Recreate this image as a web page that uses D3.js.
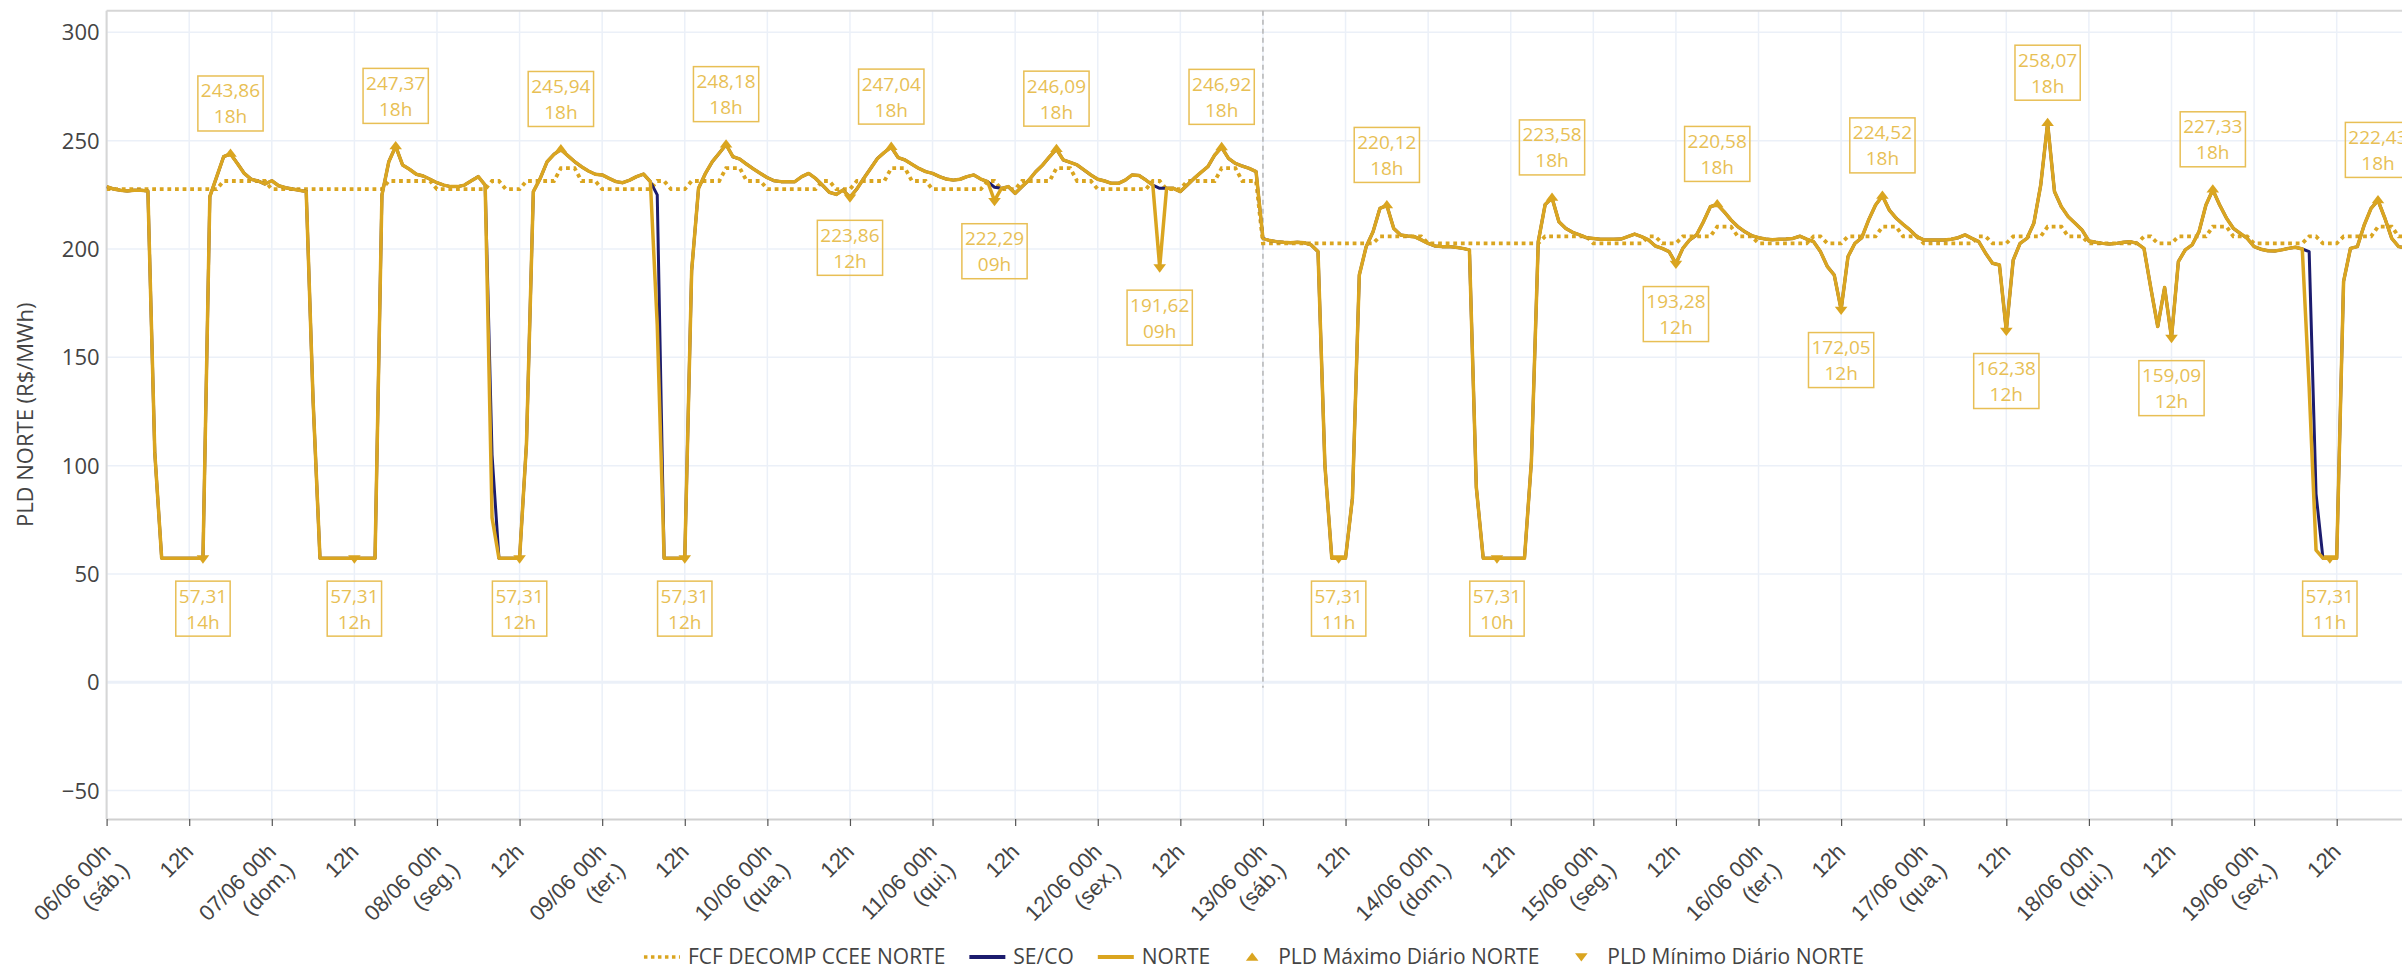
<!DOCTYPE html>
<html>
<head>
<meta charset="utf-8">
<script src="https://cdn.jsdelivr.net/npm/d3@7"></script>
<style>
  html, body { margin: 0; padding: 0; background: #fff; overflow: hidden; }
  svg { display: block; font-family: "Open Sans", sans-serif; }
</style>
</head>
<body>
<div id="chart"></div>
<script>
// first hour shown: 06/06 00h, one value per hour
const START = Date.UTC(2026, 5, 6, 0);
const WEEKDAYS = ["dom.", "seg.", "ter.", "qua.", "qui.", "sex.", "sáb."];

// PLD horario NORTE (R$/MWh), one row per day
const NORTE = [
  228.8, 227.7, 227.1, 226.8, 227.1, 227.1, 226.8, 106.0, 57.31, 57.31, 57.31, 57.31, 57.31, 57.31, 57.31, 224.2, 233.4, 242.6, 243.86, 239.5, 234.9, 232.2, 231.4, 230.0,
  231.5, 229.2, 228.3, 227.7, 227.1, 226.5, 130.0, 57.31, 57.31, 57.31, 57.31, 57.31, 57.31, 57.31, 57.31, 57.31, 224.9, 240.3, 247.37, 238.8, 236.8, 234.5, 233.7, 232.2,
  230.6, 229.5, 228.8, 228.8, 229.5, 231.5, 233.4, 229.5, 76.0, 57.31, 57.31, 57.31, 57.31, 110.0, 226.5, 232.6, 240.3, 243.7, 245.94, 243.1, 240.3, 238.0, 236.0, 234.5,
  234.2, 232.6, 231.1, 230.6, 231.8, 233.4, 234.6, 231.1, 165.0, 57.31, 57.31, 57.31, 57.31, 190.0, 228.0, 234.9, 240.3, 244.2, 248.18, 242.6, 241.5, 239.1, 236.9, 234.9,
  232.9, 231.5, 231.1, 231.1, 231.1, 233.4, 234.9, 232.6, 229.5, 226.2, 225.2, 227.2, 223.86, 227.7, 232.6, 237.2, 241.8, 244.6, 247.04, 242.2, 241.1, 239.1, 237.2, 235.7,
  234.9, 233.4, 232.3, 231.8, 232.2, 233.4, 234.2, 232.3, 231.1, 222.29, 228.0, 228.8, 225.7, 228.8, 231.8, 235.7, 238.8, 242.6, 246.09, 241.1, 240.0, 238.8, 236.5, 234.2,
  232.2, 231.4, 230.3, 230.3, 231.8, 234.2, 233.9, 231.8, 229.5, 191.62, 228.0, 228.0, 226.5, 229.5, 232.6, 235.4, 238.0, 243.4, 246.92, 241.8, 239.5, 238.3, 237.2, 235.7,
  204.9, 203.9, 203.4, 203.1, 202.9, 203.1, 202.9, 201.9, 198.8, 100.4, 57.31, 57.31, 57.31, 85.0, 188.0, 201.1, 208.0, 218.8, 220.12, 209.5, 206.5, 206.0, 205.7, 204.2,
  202.6, 201.4, 201.1, 201.1, 200.8, 200.3, 199.6, 90.0, 57.31, 57.31, 57.31, 57.31, 57.31, 57.31, 57.31, 101.9, 203.4, 220.5, 223.58, 212.6, 209.5, 207.7, 206.5, 205.2,
  204.9, 204.5, 204.5, 204.5, 204.6, 205.7, 206.9, 205.7, 204.2, 201.4, 200.3, 198.8, 193.28, 200.3, 204.2, 206.5, 212.6, 219.5, 220.58, 217.2, 213.4, 210.3, 208.0, 206.2,
  205.2, 204.6, 204.3, 204.5, 204.6, 204.9, 205.9, 204.6, 203.4, 198.8, 191.9, 188.0, 172.05, 196.5, 202.6, 205.2, 213.4, 220.3, 224.52, 218.0, 214.2, 211.4, 208.8, 205.7,
  204.2, 204.2, 204.2, 204.2, 204.5, 205.2, 206.5, 204.9, 203.4, 198.0, 193.4, 192.6, 162.38, 194.9, 202.6, 204.9, 211.9, 229.5, 258.07, 226.5, 219.5, 214.9, 211.9, 208.8,
  203.7, 203.1, 202.6, 202.3, 202.6, 203.1, 203.4, 202.6, 200.3, 181.9, 164.2, 182.2, 159.09, 194.2, 199.6, 201.9, 208.0, 220.3, 227.33, 220.3, 214.2, 209.5, 207.2, 204.9,
  201.1, 199.9, 199.2, 199.1, 199.6, 200.3, 200.8, 200.0, 136.0, 61.0, 57.31, 57.31, 57.31, 185.0, 200.3, 201.1, 211.1, 218.8, 222.43, 214.2, 204.9, 201.1, 200.5, 200.0
];

// PLD horario SE/CO (R$/MWh)
const SECO = [
  228.8, 227.7, 227.1, 226.8, 227.1, 227.1, 226.8, 106.0, 57.31, 57.31, 57.31, 57.31, 57.31, 57.31, 57.31, 224.2, 233.4, 242.6, 243.86, 239.5, 234.9, 232.2, 231.4, 230.0,
  231.5, 229.2, 228.3, 227.7, 227.1, 226.5, 130.0, 57.31, 57.31, 57.31, 57.31, 57.31, 57.31, 57.31, 57.31, 57.31, 224.9, 240.3, 247.37, 238.8, 236.8, 234.5, 233.7, 232.2,
  230.6, 229.5, 228.8, 228.8, 229.5, 231.5, 233.4, 229.5, 105.0, 57.31, 57.31, 57.31, 57.31, 110.0, 226.5, 232.6, 240.3, 243.7, 245.94, 243.1, 240.3, 238.0, 236.0, 234.5,
  234.2, 232.6, 231.1, 230.6, 231.8, 233.4, 234.6, 231.1, 225.0, 57.31, 57.31, 57.31, 57.31, 190.0, 228.0, 234.9, 240.3, 244.2, 248.18, 242.6, 241.5, 239.1, 236.9, 234.9,
  232.9, 231.5, 231.1, 231.1, 231.1, 233.4, 234.9, 232.6, 229.5, 226.2, 225.2, 227.2, 223.86, 227.7, 232.6, 237.2, 241.8, 244.6, 247.04, 242.2, 241.1, 239.1, 237.2, 235.7,
  234.9, 233.4, 232.3, 231.8, 232.2, 233.4, 234.2, 232.3, 231.1, 228.5, 228.0, 228.8, 225.7, 228.8, 231.8, 235.7, 238.8, 242.6, 246.09, 241.1, 240.0, 238.8, 236.5, 234.2,
  232.2, 231.4, 230.3, 230.3, 231.8, 234.2, 233.9, 231.8, 229.5, 228.0, 228.0, 228.0, 226.5, 229.5, 232.6, 235.4, 238.0, 243.4, 246.92, 241.8, 239.5, 238.3, 237.2, 235.7,
  204.9, 203.9, 203.4, 203.1, 202.9, 203.1, 202.9, 201.9, 198.8, 100.4, 57.31, 57.31, 57.31, 85.0, 188.0, 201.1, 208.0, 218.8, 220.12, 209.5, 206.5, 206.0, 205.7, 204.2,
  202.6, 201.4, 201.1, 201.1, 200.8, 200.3, 199.6, 90.0, 57.31, 57.31, 57.31, 57.31, 57.31, 57.31, 57.31, 101.9, 203.4, 220.5, 223.58, 212.6, 209.5, 207.7, 206.5, 205.2,
  204.9, 204.5, 204.5, 204.5, 204.6, 205.7, 206.9, 205.7, 204.2, 201.4, 200.3, 198.8, 193.28, 200.3, 204.2, 206.5, 212.6, 219.5, 220.58, 217.2, 213.4, 210.3, 208.0, 206.2,
  205.2, 204.6, 204.3, 204.5, 204.6, 204.9, 205.9, 204.6, 203.4, 198.8, 191.9, 188.0, 172.05, 196.5, 202.6, 205.2, 213.4, 220.3, 224.52, 218.0, 214.2, 211.4, 208.8, 205.7,
  204.2, 204.2, 204.2, 204.2, 204.5, 205.2, 206.5, 204.9, 203.4, 198.0, 193.4, 192.6, 162.38, 194.9, 202.6, 204.9, 211.9, 229.5, 258.07, 226.5, 219.5, 214.9, 211.9, 208.8,
  203.7, 203.1, 202.6, 202.3, 202.6, 203.1, 203.4, 202.6, 200.3, 181.9, 164.2, 182.2, 159.09, 194.2, 199.6, 201.9, 208.0, 220.3, 227.33, 220.3, 214.2, 209.5, 207.2, 204.9,
  201.1, 199.9, 199.2, 199.1, 199.6, 200.3, 200.8, 200.0, 198.8, 87.0, 57.31, 57.31, 57.31, 185.0, 200.3, 201.1, 211.1, 218.8, 222.43, 214.2, 204.9, 201.1, 200.5, 200.0
];

// FCF DECOMP CCEE NORTE (R$/MWh)
const FCF = [
  227.6, 227.6, 227.6, 227.6, 227.6, 227.6, 227.6, 227.6, 227.6, 227.6, 227.6, 227.6, 227.6, 227.6, 227.6, 227.6, 227.6, 231.4, 231.4, 231.4, 231.4, 231.4, 231.4, 231.4,
  227.6, 227.6, 227.6, 227.6, 227.6, 227.6, 227.6, 227.6, 227.6, 227.6, 227.6, 227.6, 227.6, 227.6, 227.6, 227.6, 227.6, 231.4, 231.4, 231.4, 231.4, 231.4, 231.4, 231.4,
  227.6, 227.6, 227.6, 227.6, 227.6, 227.6, 227.6, 227.6, 231.4, 231.4, 227.6, 227.6, 227.6, 231.4, 231.4, 231.4, 231.4, 231.4, 237.3, 237.3, 237.3, 231.4, 231.4, 231.4,
  227.6, 227.6, 227.6, 227.6, 227.6, 227.6, 227.6, 227.6, 231.4, 231.4, 227.6, 227.6, 227.6, 231.4, 231.4, 231.4, 231.4, 231.4, 237.3, 237.3, 237.3, 231.4, 231.4, 231.4,
  227.6, 227.6, 227.6, 227.6, 227.6, 227.6, 227.6, 227.6, 231.4, 231.4, 227.6, 227.6, 227.6, 231.4, 231.4, 231.4, 231.4, 231.4, 237.3, 237.3, 237.3, 231.4, 231.4, 231.4,
  227.6, 227.6, 227.6, 227.6, 227.6, 227.6, 227.6, 227.6, 231.4, 231.4, 227.6, 227.6, 227.6, 231.4, 231.4, 231.4, 231.4, 231.4, 237.3, 237.3, 237.3, 231.4, 231.4, 231.4,
  227.6, 227.6, 227.6, 227.6, 227.6, 227.6, 227.6, 227.6, 231.4, 231.4, 227.6, 227.6, 227.6, 231.4, 231.4, 231.4, 231.4, 231.4, 237.3, 237.3, 237.3, 231.4, 231.4, 231.4,
  202.6, 202.6, 202.6, 202.6, 202.6, 202.6, 202.6, 202.6, 202.6, 202.6, 202.6, 202.6, 202.6, 202.6, 202.6, 202.6, 202.6, 205.8, 205.8, 205.8, 205.8, 205.8, 205.8, 205.8,
  202.6, 202.6, 202.6, 202.6, 202.6, 202.6, 202.6, 202.6, 202.6, 202.6, 202.6, 202.6, 202.6, 202.6, 202.6, 202.6, 202.6, 205.8, 205.8, 205.8, 205.8, 205.8, 205.8, 205.8,
  202.6, 202.6, 202.6, 202.6, 202.6, 202.6, 202.6, 202.6, 205.8, 205.8, 202.6, 202.6, 202.6, 205.8, 205.8, 205.8, 205.8, 205.8, 210.3, 210.3, 210.3, 205.8, 205.8, 205.8,
  202.6, 202.6, 202.6, 202.6, 202.6, 202.6, 202.6, 202.6, 205.8, 205.8, 202.6, 202.6, 202.6, 205.8, 205.8, 205.8, 205.8, 205.8, 210.3, 210.3, 210.3, 205.8, 205.8, 205.8,
  202.6, 202.6, 202.6, 202.6, 202.6, 202.6, 202.6, 202.6, 205.8, 205.8, 202.6, 202.6, 202.6, 205.8, 205.8, 205.8, 205.8, 205.8, 210.3, 210.3, 210.3, 205.8, 205.8, 205.8,
  202.6, 202.6, 202.6, 202.6, 202.6, 202.6, 202.6, 202.6, 205.8, 205.8, 202.6, 202.6, 202.6, 205.8, 205.8, 205.8, 205.8, 205.8, 210.3, 210.3, 210.3, 205.8, 205.8, 205.8,
  202.6, 202.6, 202.6, 202.6, 202.6, 202.6, 202.6, 202.6, 205.8, 205.8, 202.6, 202.6, 202.6, 205.8, 205.8, 205.8, 205.8, 205.8, 210.3, 210.3, 210.3, 205.8, 205.8, 205.8
];

// hour index of each daily max / min of NORTE
const MAX_HOURS = [18, 42, 66, 90, 114, 138, 162, 186, 210, 234, 258, 282, 306, 330];
const MIN_HOURS = [14, 36, 60, 84, 108, 129, 153, 179, 202, 228, 252, 276, 300, 323];

const LEGEND_NAMES = ["FCF DECOMP CCEE NORTE", "SE/CO", "NORTE", "PLD Máximo Diário NORTE", "PLD Mínimo Diário NORTE"];
const Y_TITLE = "PLD NORTE (R$/MWh)";
const Y_TICKS = [-50, 0, 50, 100, 150, 200, 250, 300];

const GOLD = "#DAA520";
const GOLD_LIGHT = "#E8BF55";
const NAVY = "#1c1c6e";
const GRID = "#EBF0F8";
const TEXT = "#444";

const W = 2402, H = 970;
// x range runs a little past the window, as in the original
const plot = {left: 106.6, top: 10.7, bottom: 819, hourPx: 6.883, hours: 334};
plot.right = plot.left + plot.hourPx * plot.hours;

const times = d3.range(NORTE.length).map(i => new Date(START + i * 3600e3));

const svg = d3.select("#chart").append("svg")
    .attr("width", W)
    .attr("height", H);

const x = d3.scaleUtc()
    .domain([new Date(START), new Date(START + plot.hours * 3600e3)])
    .range([plot.left, plot.right]);
const y = d3.scaleLinear()
    .domain([-63.1, 310.0])
    .range([plot.bottom, plot.top]);

svg.append("defs").append("clipPath").attr("id", "clip")
  .append("rect")
    .attr("x", plot.left).attr("y", plot.top)
    .attr("width", plot.right - plot.left)
    .attr("height", plot.bottom - plot.top);

// grid
const xTicks = x.ticks(d3.utcHour.every(12));
svg.append("g")
  .selectAll("line")
  .data(xTicks)
  .enter().append("line")
    .attr("x1", d => x(d)).attr("x2", d => x(d))
    .attr("y1", plot.top).attr("y2", plot.bottom)
    .attr("stroke", GRID).attr("stroke-width", 1.5);
svg.append("g")
  .selectAll("line")
  .data(Y_TICKS)
  .enter().append("line")
    .attr("x1", plot.left).attr("x2", plot.right)
    .attr("y1", d => y(d)).attr("y2", d => y(d))
    .attr("stroke", GRID)
    .attr("stroke-width", d => d === 0 ? 3 : 1.5);

// frame
svg.append("line")
    .attr("x1", plot.left).attr("x2", plot.right)
    .attr("y1", plot.top).attr("y2", plot.top)
    .attr("stroke", "#d6d6d6").attr("stroke-width", 2);
svg.append("line")
    .attr("x1", plot.left).attr("x2", plot.left)
    .attr("y1", plot.top).attr("y2", plot.bottom)
    .attr("stroke", "#d6d6d6").attr("stroke-width", 2);

// 13/06 00h separator
svg.append("line")
    .attr("x1", x(new Date(START + 168 * 3600e3)))
    .attr("x2", x(new Date(START + 168 * 3600e3)))
    .attr("y1", plot.top).attr("y2", y(-2.5))
    .attr("stroke", "#b5b5b5")
    .attr("stroke-width", 1.5)
    .attr("stroke-dasharray", "5,4");

// x axis
const fmtHour = d3.utcFormat("%Hh");
const fmtDay = d3.utcFormat("%d/%m %Hh");
const xAxis = svg.append("g")
    .attr("transform", "translate(0," + plot.bottom + ")")
    .call(d3.axisBottom(x).tickValues(xTicks).tickSize(7).tickSizeOuter(0).tickFormat(""));
xAxis.select(".domain").attr("stroke", "#d0d0d0").attr("stroke-width", 2);
xAxis.selectAll(".tick line").attr("stroke", "#555").attr("stroke-width", 1.2);
xAxis.selectAll(".tick text").remove();
xAxis.selectAll(".tick").each(function(d) {
  const t = d3.select(this).append("text")
      .attr("transform", "translate(5,34) rotate(-45)")
      .attr("text-anchor", "end")
      .attr("font-size", 22)
      .attr("fill", TEXT);
  const lines = d.getUTCHours() === 0
      ? [fmtDay(d), "(" + WEEKDAYS[d.getUTCDay()] + ")"]
      : [fmtHour(d)];
  lines.forEach((s, i) => {
    t.append("tspan").attr("x", 0).attr("dy", i === 0 ? 0 : "1.2em").text(s);
  });
});

// y axis labels
svg.append("g")
  .selectAll("text")
  .data(Y_TICKS)
  .enter().append("text")
    .attr("x", plot.left - 7)
    .attr("y", d => y(d))
    .attr("dy", "0.36em")
    .attr("text-anchor", "end")
    .attr("font-size", 22)
    .attr("fill", TEXT)
    .text(d => d3.format("")(d));

svg.append("text")
    .attr("transform", "translate(25," + ((plot.top + plot.bottom) / 2) + ") rotate(-90)")
    .attr("text-anchor", "middle")
    .attr("dy", "0.35em")
    .attr("font-size", 22)
    .attr("fill", TEXT)
    .text(Y_TITLE);

// series
const lines = svg.append("g").attr("clip-path", "url(#clip)");
const line = d3.line()
    .x((d, i) => x(times[i]))
    .y(d => y(d));

lines.append("path")
    .datum(FCF)
    .attr("d", line)
    .attr("fill", "none")
    .attr("stroke", GOLD)
    .attr("stroke-width", 3.8)
    .attr("stroke-dasharray", "3.8,3.8");
lines.append("path")
    .datum(SECO)
    .attr("d", line)
    .attr("fill", "none")
    .attr("stroke", NAVY)
    .attr("stroke-width", 3)
    .attr("stroke-linejoin", "round");
lines.append("path")
    .datum(NORTE)
    .attr("d", line)
    .attr("fill", "none")
    .attr("stroke", GOLD)
    .attr("stroke-width", 3.5)
    .attr("stroke-linejoin", "round");

// markers + annotations
const triUp = "M-6.3,2.8H6.3L0,-5.5Z";
const triDown = "M-6.3,-2.8H6.3L0,5.5Z";
const fmtVal = v => d3.format(".2f")(v).replace(".", ",");

function annotate(hours, path, dir) {
  const g = svg.append("g");
  g.selectAll("path")
    .data(hours)
    .enter().append("path")
      .attr("d", path)
      .attr("transform", h => "translate(" + x(times[h]) + "," + y(NORTE[h]) + ")")
      .attr("fill", GOLD);

  hours.forEach(h => {
    const px = x(times[h]);
    const py = y(NORTE[h]);
    const top = dir < 0 ? py - 23 - 55 : py + 23;
    const a = g.append("g");
    const box = a.append("rect");
    const txt = a.append("text")
        .attr("text-anchor", "middle")
        .attr("font-size", 19)
        .attr("fill", GOLD_LIGHT);
    txt.append("tspan").attr("x", px).attr("y", top + 21.5).text(fmtVal(NORTE[h]));
    txt.append("tspan").attr("x", px).attr("y", top + 47.5).text(fmtHour(times[h]));
    const bw = txt.node().getBBox().width + 6;
    box.attr("x", px - bw / 2).attr("y", top)
        .attr("width", bw).attr("height", 55)
        .attr("fill", "none")
        .attr("stroke", GOLD_LIGHT).attr("stroke-width", 1.5);
  });
}
annotate(MAX_HOURS, triUp, -1);
annotate(MIN_HOURS, triDown, 1);

// legend
const legend = svg.append("g").attr("transform", "translate(0,957)");
let lx = 0;
LEGEND_NAMES.forEach((name, i) => {
  const item = legend.append("g").attr("transform", "translate(" + lx + ",0)");
  if (i === 0) {
    item.append("line").attr("x1", 0).attr("x2", 36)
        .attr("stroke", GOLD).attr("stroke-width", 3.5).attr("stroke-dasharray", "3.5,3.5");
  } else if (i === 1 || i === 2) {
    item.append("line").attr("x1", 0).attr("x2", 36)
        .attr("stroke", i === 1 ? NAVY : GOLD).attr("stroke-width", 4);
  } else {
    item.append("path").attr("d", i === 3 ? triUp : triDown)
        .attr("transform", "translate(18," + (i === 3 ? 1 : -1) + ")")
        .attr("fill", GOLD);
  }
  const t = item.append("text")
      .attr("x", 44)
      .attr("dy", "0.35em")
      .attr("font-size", 21)
      .attr("fill", TEXT)
      .text(name);
  lx += 44 + t.node().getComputedTextLength() + 24;
});
const legendWidth = lx - 24;
legend.attr("transform", "translate(" + (1254 - legendWidth / 2) + ",957)");
</script>
</body>
</html>
